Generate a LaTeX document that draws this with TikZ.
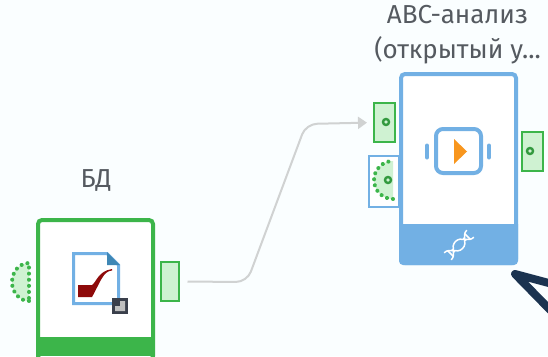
\documentclass[tikz,border=0pt]{standalone}
\usepackage{fontspec}
\setmainfont{Fira Sans}
\usetikzlibrary{arrows.meta}

\definecolor{pagetint}{HTML}{FAFEFF}
\definecolor{portgreen}{HTML}{3CB54A}
\definecolor{paleport}{HTML}{CFF2D2}
\definecolor{abcblue}{HTML}{72B0E4}
\definecolor{foldblue}{HTML}{3F87B5}
\definecolor{pipered}{HTML}{8E0A0A}
\definecolor{badgegrey}{HTML}{3A3F4B}
\definecolor{runorange}{HTML}{F8961E}
\definecolor{linkgrey}{HTML}{D0D2D2}
\definecolor{labelgrey}{HTML}{555A60}
\definecolor{navy}{HTML}{1B3350}

\tikzset{
    nodelabel/.style={text=labelgrey, font=\fontsize{26}{35}\selectfont, align=center, inner sep=0pt},
    nodebody/.style={draw, fill=white, line width=4pt, rounded corners=4pt, inner sep=0pt},
    dataport/.style={draw=portgreen, fill=paleport, line width=2pt, inner sep=0pt, minimum width=18pt, minimum height=39pt},
    portdot/.style={draw=portgreen!85!black, line width=2.4pt, circle, inner sep=0pt, minimum size=6pt},
    halfport/.style={draw=portgreen, line width=4pt, line cap=round, dash pattern=on 0.1pt off 6pt},
    link/.style={draw=linkgrey, line width=2pt, rounded corners=11pt}
}

\begin{document}
\begin{tikzpicture}[x=1pt,y=-1pt]

    % Radius of the half round ports
    \def\R{19}

    \useasboundingbox (0,0) rectangle (548,356);
    \clip (0,0) rectangle (548,356);
    \fill[pagetint] (0,0) rectangle (548,356);

    % Labels above the two blocks
    \node[nodelabel] (bdlabel) at (96,180) {БД};
    \node[nodelabel] (abclabel) at (457.5,34.5) {АВС-анализ\\(открытый у...};

    % Left block
    \node[nodebody, draw=portgreen, minimum width=115pt, minimum height=140pt] (bd) at (95.5,290) {};
    \fill[portgreen] (36,337) rectangle (155,356);
    \node[dataport] (bdout) at (169.5,281.5) {};
    \fill[paleport] (29,301) arc (90:270:17 and \R) -- cycle;
    \draw[halfport] (29,301) arc (90:270:17 and \R) -- cycle;

    % Document icon of the left block
    \draw[abcblue, line width=3pt, fill=white] (73.5,253.5) -- (107,253.5) -- (118.5,265) -- (118.5,303.5) -- (73.5,303.5) -- cycle;
    \fill[foldblue] (107,252) -- (120,265) -- (107,265) -- cycle;
    \fill[pipered] (78,285) -- (92,285) .. controls (96,283) and (98,271) .. (112,269) -- (112,270.5) .. controls (103,271) and (100,283) .. (92,297) -- (78,297) -- cycle;
    \fill[badgegrey] (112,298) rectangle (128,314);
    \fill[black!25] (115,311) -- (115,306) -- (120,306) -- (120,301) -- (125,301) -- (125,311) -- cycle;

    % Right block
    \node[nodebody, draw=abcblue, minimum width=115pt, minimum height=189pt] (abc) at (458.5,168.5) {};
    \fill[abcblue] (399,224) -- (518,224) [rounded corners=4pt] -- (518,265) -- (399,265) [sharp corners] -- cycle;

    % Ports of the right block
    \node[dataport, minimum width=21pt] (abcin) at (384.5,122.5) {};
    \node[dataport, minimum width=21pt] (abcout) at (532.5,151) {};
    \node[portdot] (abcindot) at (386,122) {};
    \node[portdot] (abcoutdot) at (530,151) {};
    \node[draw=abcblue, fill=white, line width=2pt, inner sep=0pt, minimum width=30pt, minimum height=51pt] (abcvar) at (384,181.5) {};
    \fill[paleport] (393,199) arc (90:270:\R) -- cycle;
    \draw[halfport] (393,199) arc (90:270:\R);
    \node[portdot] (abcvardot) at (388,180) {};

    % Middle icon of the right block
    \node[draw=abcblue, line width=4pt, rounded corners=7pt, inner sep=0pt, minimum width=45pt, minimum height=44pt] (runbox) at (458.5,151) {};
    \fill[runorange] (454,139) -- (467,151.5) -- (454,164) -- cycle;
    \draw[abcblue, line width=4pt, line cap=round] (427,145.5) -- (427,157.5);
    \draw[abcblue, line width=4pt, line cap=round] (489,145.5) -- (489,157.5);

    % Helix in the blue bar
    \begin{scope}[shift={(459,245)}, rotate=45, white, line width=1.5pt]
        \draw (-16,-5) .. controls (-8,-5) and (-8,5) .. (0,5) .. controls (8,5) and (8,-5) .. (16,-5);
        \draw (-16,5) .. controls (-8,5) and (-8,-5) .. (0,-5) .. controls (8,-5) and (8,5) .. (16,5);
        \draw (-12,-4) -- (-12,4);
        \draw (-8,-2) -- (-8,2);
        \draw (8,-2) -- (8,2);
        \draw (12,-4) -- (12,4);
    \end{scope}

    % Connector between the blocks
    \coordinate (bendlow) at (247,282);
    \coordinate (bendhigh) at (306,124);
    \draw[link, shorten <=8pt, shorten >=6pt, -{Triangle[length=9pt,width=12pt,fill=linkgrey]}] (bdout.east) -- (bendlow) -- (bendhigh) -- (abcin.west);

    % Dark arrow head at the corner
    \coordinate (tip) at (515,274);
    \draw[navy, line width=8pt, line cap=round, line join=round] (560,286) -- (tip) -- (560,320);

\end{tikzpicture}
\end{document}
